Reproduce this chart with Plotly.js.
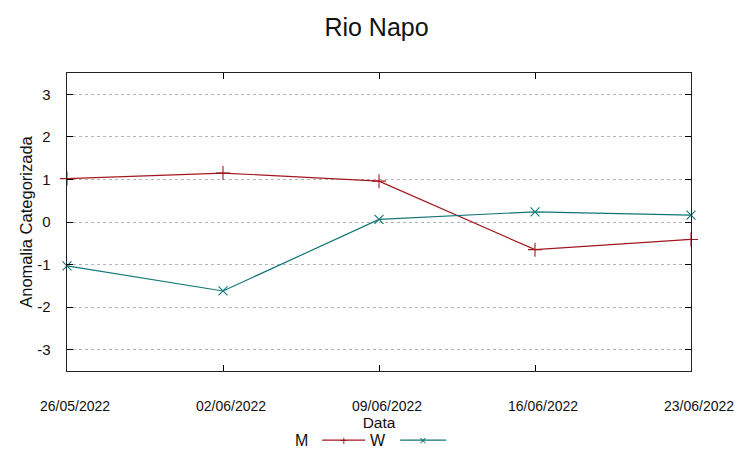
<!DOCTYPE html>
<html>
<head>
<meta charset="utf-8">
<script src="https://cdn.plot.ly/plotly-3.0.1.min.js"></script>
<style>html,body{margin:0;padding:0;background:#fff;}#chart{width:753px;height:459px;}</style>
</head>
<body>
<div id="chart"></div>
<script>
const dates = ["2022-05-26", "2022-06-02", "2022-06-09", "2022-06-16", "2022-06-23"];
const tickLabels = ["26/05/2022", "02/06/2022", "09/06/2022", "16/06/2022", "23/06/2022"];
const seriesM = [1.02, 1.15, 0.96, -0.65, -0.41];
const seriesW = [-1.03, -1.62, 0.06, 0.24, 0.16];
const yTicks = [-3, -2, -1, 0, 1, 2, 3];
const yTickLabels = ["-3", "-2", "-1", "0", "1", "2", "3"];

const colM = "#a3171f";
const colW = "#127575";
const font = "Liberation Sans, Arial, sans-serif";

const traces = [
  {x: dates, y: seriesM, name: "M", type: "scatter", mode: "lines+markers", showlegend: false,
   line: {color: colM, width: 1.2}, marker: {symbol: "cross-thin-open", size: 10, line: {color: colM, width: 1.1}}, cliponaxis: false},
  {x: dates, y: seriesW, name: "W", type: "scatter", mode: "lines+markers", showlegend: false,
   line: {color: colW, width: 1.2}, marker: {symbol: "x-thin-open", size: 9, line: {color: colW, width: 1.1}}, cliponaxis: false}
];

const layout = {
  width: 753, height: 459,
  margin: {l: 67, r: 62, t: 73, b: 88},
  paper_bgcolor: "#fff", plot_bgcolor: "#fff",
  font: {family: font, color: "#222"},
  title: {text: "Rio Napo", x: 0.5, xanchor: "center", y: 0.94, yanchor: "middle", font: {size: 25, family: font, color: "#111"}},
  xaxis: {
    type: "date", range: [dates[0], dates[dates.length - 1]],
    tickvals: dates, ticktext: tickLabels,
    ticks: "inside", ticklen: 6, tickcolor: "#000", tickwidth: 1,
    showline: true, linecolor: "#222", linewidth: 1.3, mirror: "allticks",
    showgrid: false, zeroline: false,
    tickfont: {size: 14, family: font, color: "#111"},
    ticklabelstandoff: 22, ticklabelshift: 8,
    title: {text: "Data", font: {size: 15.5, family: font, color: "#111"}, standoff: 4}
  },
  yaxis: {
    range: [-3.5, 3.5], tickvals: yTicks, ticktext: yTickLabels,
    ticks: "inside", ticklen: 6, tickcolor: "#000", tickwidth: 1,
    showline: true, linecolor: "#222", linewidth: 1.3, mirror: "allticks",
    showgrid: true, gridcolor: "#b4b4b4", griddash: "dot", gridwidth: 1,
    zeroline: false,
    tickfont: {size: 15, family: font, color: "#111"},
    ticklabelstandoff: 12,
    title: {text: "Anomalia Categorizada", font: {size: 16.5, family: font, color: "#111"}, standoff: 0}
  },
  shapes: [
    {type: "line", xref: "paper", yref: "paper", x0: (322-67)/623.7, x1: (365-67)/623.7, y0: -69/297.7, y1: -69/297.7, line: {color: colM, width: 1.2}},
    {type: "line", xref: "paper", yref: "paper", x0: (400-67)/623.7, x1: (446-67)/623.7, y0: -69/297.7, y1: -69/297.7, line: {color: colW, width: 1.2}}
  ],
  annotations: [
    {text: "M", xref: "paper", yref: "paper", x: (310-67)/623.7, y: -69/297.7, xanchor: "right", yanchor: "middle", showarrow: false, font: {size: 16, family: font, color: "#111"}},
    {text: "W", xref: "paper", yref: "paper", x: (368-67)/623.7, y: -69/297.7, xanchor: "left", yanchor: "middle", showarrow: false, font: {size: 16, family: font, color: "#111"}},
    {text: "+", xref: "paper", yref: "paper", x: (344-67)/623.7, y: -69/297.7, xanchor: "center", yanchor: "middle", showarrow: false, font: {size: 13, family: font, color: colM}},
    {text: "×", xref: "paper", yref: "paper", x: (423-67)/623.7, y: -69/297.7, xanchor: "center", yanchor: "middle", showarrow: false, font: {size: 13, family: font, color: colW}}
  ]
};

Plotly.newPlot("chart", traces, layout, {displayModeBar: false, staticPlot: true});
</script>
</body>
</html>
